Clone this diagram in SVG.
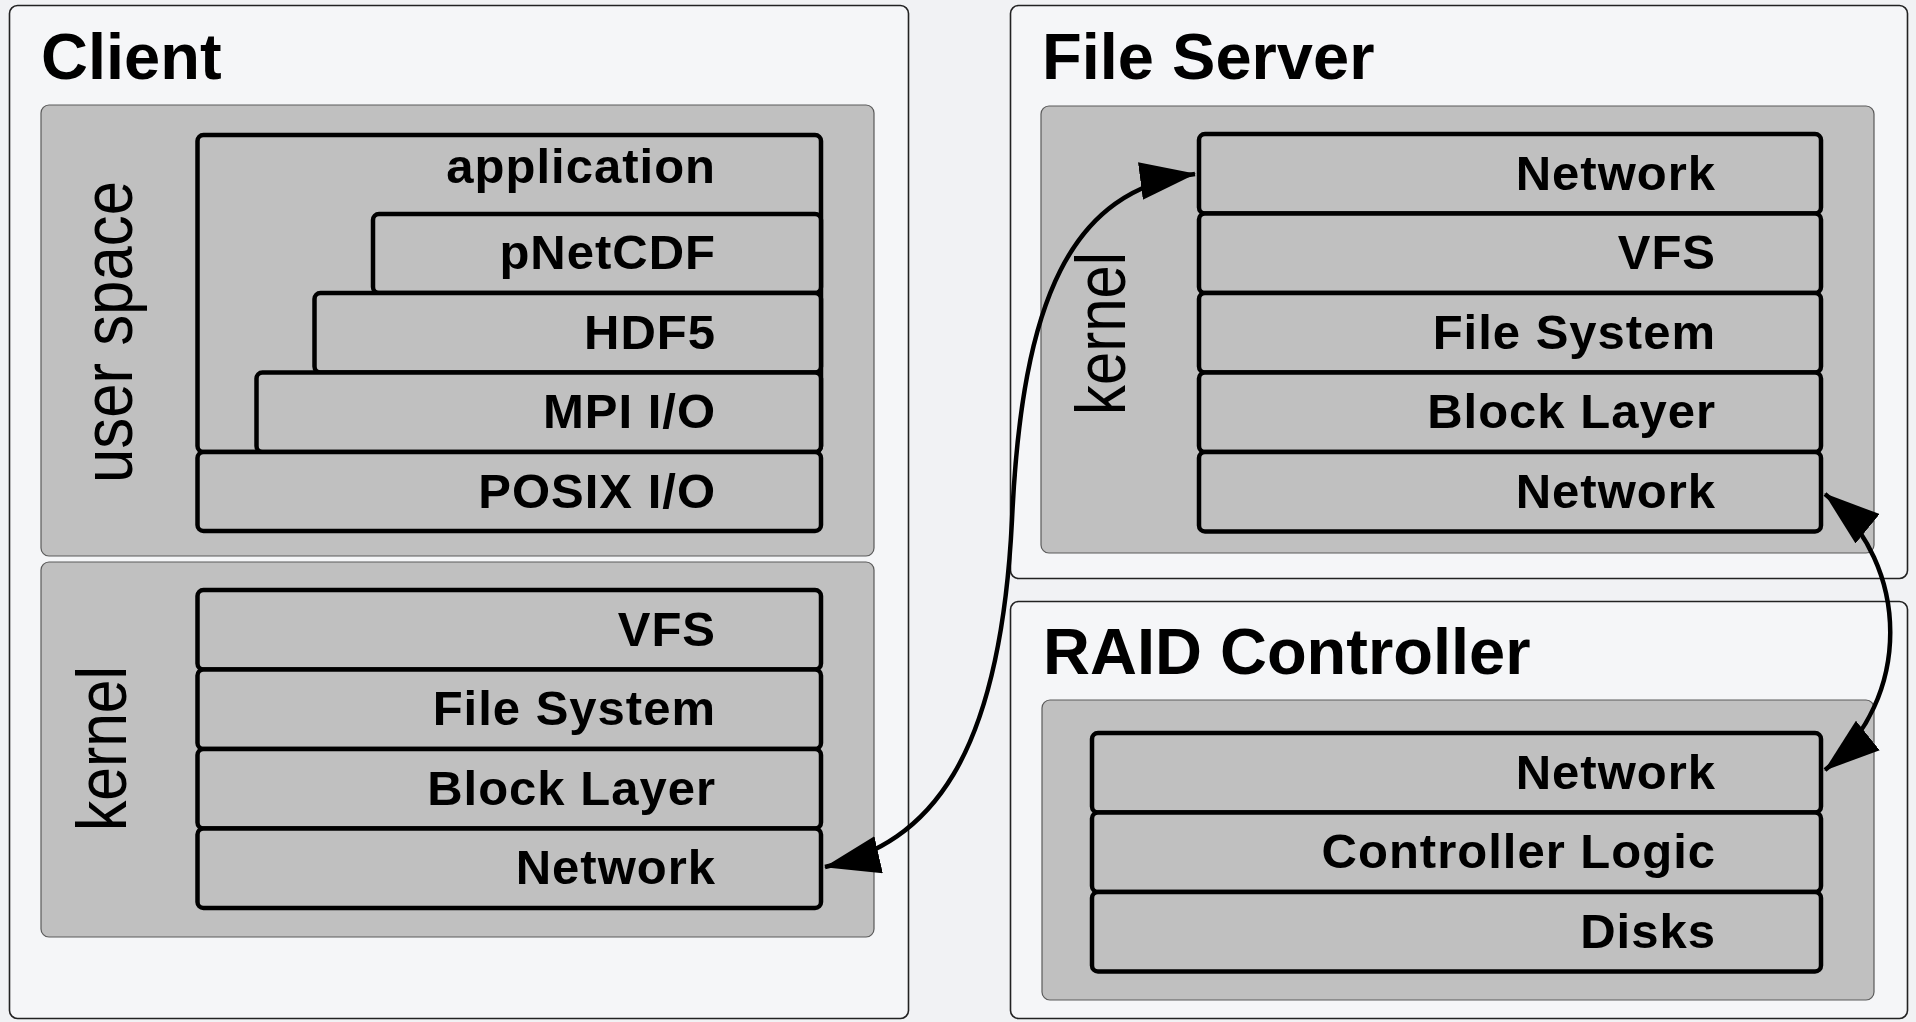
<svg xmlns="http://www.w3.org/2000/svg" width="1916" height="1022" viewBox="0 0 1916 1022">
  <defs>
    <style>
      .outer { fill: #f5f6f8; stroke: #222; stroke-width: 1.6; }
      .zone { fill: #c0c0c0; stroke: #5a5a5a; stroke-width: 1.2; }
      .layer { fill: #c0c0c0; stroke: #000; stroke-width: 4.5; }
      .title { font-family: "Liberation Sans", Arial, sans-serif; font-weight: bold; font-size: 65px; fill: #000; }
      .lbl { font-family: "Liberation Sans", Arial, sans-serif; font-weight: bold; font-size: 49px; letter-spacing: 1px; fill: #000; text-anchor: end; }
      .side { font-family: "Liberation Sans", Arial, sans-serif; font-size: 70px; fill: #000; }
      .conn { fill: none; stroke: #000; stroke-width: 4.5; }
    </style>
    <marker id="ah" viewBox="0 0 56 38" refX="55" refY="19" markerWidth="56" markerHeight="38" markerUnits="userSpaceOnUse" orient="auto-start-reverse">
      <path d="M0,0 L56,19 L0,38 Z" fill="#000"/>
    </marker>
  </defs>

  <rect x="0" y="0" width="1916" height="1022" fill="#f1f2f4"/>

  <g id="client">
    <rect class="outer" x="9.5" y="5.5" width="899" height="1013" rx="8"/>
    <text class="title" x="41" y="79">Client</text>
    <g id="client-userspace">
      <rect class="zone" x="41" y="105" width="833" height="451" rx="8"/>
      <text class="side" transform="translate(132,483) rotate(-90)" textLength="302" lengthAdjust="spacingAndGlyphs">user space</text>
      <g id="client-application"><rect class="layer" x="197.5" y="135" width="623.5" height="317" rx="6"/><text class="lbl" x="716" y="183">application</text></g>
      <g id="client-pnetcdf"><rect class="layer" x="373" y="214" width="448" height="79" rx="6"/><text class="lbl" x="716" y="269">pNetCDF</text></g>
      <g id="client-hdf5"><rect class="layer" x="314.5" y="293" width="506.5" height="79.5" rx="6"/><text class="lbl" x="716" y="349">HDF5</text></g>
      <g id="client-mpiio"><rect class="layer" x="256.5" y="372.5" width="564.5" height="79.5" rx="6"/><text class="lbl" x="716" y="428">MPI I/O</text></g>
      <g id="client-posixio"><rect class="layer" x="197.5" y="452" width="623.5" height="79" rx="6"/><text class="lbl" x="716" y="508">POSIX I/O</text></g>
    </g>
    <g id="client-kernel">
      <rect class="zone" x="41" y="562" width="833" height="375" rx="8"/>
      <text class="side" transform="translate(126,831) rotate(-90)" textLength="165" lengthAdjust="spacingAndGlyphs">kernel</text>
      <g id="client-vfs"><rect class="layer" x="197.5" y="590" width="623.5" height="79.5" rx="6"/><text class="lbl" x="716" y="645.5">VFS</text></g>
      <g id="client-fs"><rect class="layer" x="197.5" y="669.5" width="623.5" height="79.5" rx="6"/><text class="lbl" x="716" y="725">File System</text></g>
      <g id="client-block"><rect class="layer" x="197.5" y="749" width="623.5" height="79.5" rx="6"/><text class="lbl" x="716" y="804.5">Block Layer</text></g>
      <g id="client-network"><rect class="layer" x="197.5" y="828.5" width="623.5" height="79.5" rx="6"/><text class="lbl" x="716" y="884">Network</text></g>
    </g>
  </g>

  <g id="fileserver">
    <rect class="outer" x="1010.5" y="5.5" width="897" height="573" rx="8"/>
    <text class="title" x="1042" y="79">File Server</text>
    <g id="fileserver-kernel">
      <rect class="zone" x="1041" y="106" width="833" height="447" rx="8"/>
      <text class="side" transform="translate(1125,415) rotate(-90)" textLength="163" lengthAdjust="spacingAndGlyphs">kernel</text>
      <g id="fs-network-in"><rect class="layer" x="1199" y="134" width="622" height="79.5" rx="6"/><text class="lbl" x="1716" y="189.5">Network</text></g>
      <g id="fs-vfs"><rect class="layer" x="1199" y="213.5" width="622" height="79.5" rx="6"/><text class="lbl" x="1716" y="269">VFS</text></g>
      <g id="fs-fs"><rect class="layer" x="1199" y="293" width="622" height="79.5" rx="6"/><text class="lbl" x="1716" y="348.5">File System</text></g>
      <g id="fs-block"><rect class="layer" x="1199" y="372.5" width="622" height="79.5" rx="6"/><text class="lbl" x="1716" y="428">Block Layer</text></g>
      <g id="fs-network-out"><rect class="layer" x="1199" y="452" width="622" height="79.5" rx="6"/><text class="lbl" x="1716" y="507.5">Network</text></g>
    </g>
  </g>

  <g id="raid">
    <rect class="outer" x="1010.5" y="601.5" width="897" height="417" rx="8"/>
    <text class="title" x="1043" y="674">RAID Controller</text>
    <g id="raid-zone">
      <rect class="zone" x="1042" y="700" width="832" height="300" rx="8"/>
      <g id="raid-network"><rect class="layer" x="1092" y="733" width="729" height="79.5" rx="6"/><text class="lbl" x="1716" y="788.5">Network</text></g>
      <g id="raid-logic"><rect class="layer" x="1092" y="812.5" width="729" height="79.5" rx="6"/><text class="lbl" x="1716" y="868">Controller Logic</text></g>
      <g id="raid-disks"><rect class="layer" x="1092" y="892" width="729" height="79.5" rx="6"/><text class="lbl" x="1716" y="947.5">Disks</text></g>
    </g>
  </g>

  <g id="connectors">
    <path class="conn" d="M825,867 C930,843 1000,760 1012,520 C1022,300 1070,190 1195,174" marker-start="url(#ah)" marker-end="url(#ah)"/>
    <path class="conn" d="M1825,494 C1912,565 1912,700 1825,770" marker-start="url(#ah)" marker-end="url(#ah)"/>
  </g>
</svg>
